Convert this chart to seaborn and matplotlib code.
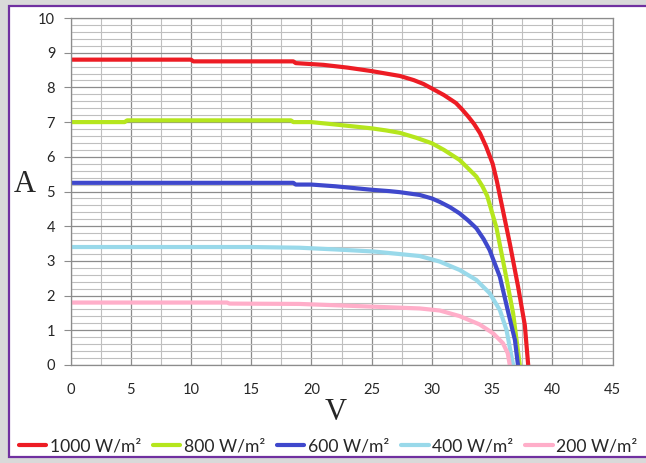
import pandas as pd
import matplotlib.pyplot as plt
import seaborn as sns
from matplotlib.patches import Rectangle
from matplotlib.ticker import MultipleLocator

# I-V curves of a PV module at five irradiance levels
series_names = ['1000 W/m²', '800 W/m²', '600 W/m²', '400 W/m²', '200 W/m²']
series_colors = ['#ed1c24', '#b5e61d', '#3f48cc', '#99d9ea', '#ffaec9']

v_1000 = [0, 10, 10.2, 18.5, 18.7, 21, 23, 25, 26, 27.35, 28.5, 29.3, 30, 31, 32, 32.5, 33, 33.5, 34,
          34.5, 35.05, 35.4, 35.78, 36.47, 37.16, 37.72, 38]
i_1000 = [8.8, 8.8, 8.75, 8.75, 8.7, 8.65, 8.57, 8.47, 8.41, 8.33, 8.21, 8.1, 7.97, 7.78, 7.55, 7.37, 7.17, 6.95, 6.68,
          6.3, 5.8, 5.3, 4.66, 3.51, 2.26, 1.15, 0]

v_800 = [0, 4.5, 4.7, 18.3, 18.5, 20, 22, 25, 26.2, 27.35, 28.7, 30, 31, 32.3, 33.15, 33.7, 34.2, 34.6,
         35.37, 36.06, 36.75, 37.3]
i_800 = [7.0, 7.0, 7.05, 7.05, 7.0, 7.0, 6.93, 6.82, 6.76, 6.69, 6.55, 6.39, 6.2, 5.91, 5.62, 5.43, 5.15, 4.87,
         3.95, 2.74, 1.49, 0]

v_600 = [0, 18.5, 18.7, 20, 22, 25, 26.5, 27.35, 29, 30, 30.66, 31.5, 32.3, 33, 33.7, 34.3, 34.8, 35.65,
         36.3, 36.9, 37.15]
i_600 = [5.25, 5.25, 5.2, 5.2, 5.15, 5.05, 5.01, 4.98, 4.9, 4.8, 4.7, 4.55, 4.37, 4.17, 3.94, 3.63, 3.31, 2.54,
         1.58, 0.72, 0]

v_400 = [0, 15, 19, 22, 25.2, 29, 30.66, 32.3, 33.7, 34.8, 35.65, 36.2, 36.75]
i_400 = [3.4, 3.4, 3.38, 3.33, 3.27, 3.14, 2.98, 2.74, 2.45, 2.07, 1.58, 1.01, 0]

v_200 = [0, 13, 13.2, 19, 25.2, 29, 30.66, 32.3, 33.96, 35.1, 35.9, 36.3, 36.47]
i_200 = [1.8, 1.8, 1.77, 1.76, 1.68, 1.63, 1.57, 1.41, 1.17, 0.91, 0.63, 0.34, 0]

x_ticks = [0, 5, 10, 15, 20, 25, 30, 35, 40, 45]
y_ticks = [0, 1, 2, 3, 4, 5, 6, 7, 8, 9, 10]

# long-form table for seaborn
frames = []
for name, v, i in zip(series_names,
                      [v_1000, v_800, v_600, v_400, v_200],
                      [i_1000, i_800, i_600, i_400, i_200]):
    frames.append(pd.DataFrame({'V': v, 'I': i, 'series': name}))
iv_df = pd.concat(frames, ignore_index=True)

sns.set_style('white')
plt.rcParams['font.family'] = ['Lato', 'DejaVu Sans']

W, H = 646, 463
fig = plt.figure(figsize=(W / 100, H / 100), dpi=100, facecolor='#d9d9d9')

# white panel with purple border (right side runs off the image)
fig.patches.append(Rectangle((9 / W, 1 - 457 / H), 1.2, (457 - 6) / H,
                             transform=fig.transFigure, facecolor='white',
                             edgecolor='#7030a0', linewidth=1.6, zorder=-5))

ax = fig.add_axes([70.5 / W, 1 - 365 / H, (612.5 - 70.5) / W, (365 - 18) / H])
ax.set_zorder(2)
sns.lineplot(data=iv_df, x='V', y='I', hue='series', palette=dict(zip(series_names, series_colors)),
             estimator=None, sort=False, linewidth=3, ax=ax, legend=True)

ax.set_xlim(0, 45)
ax.set_ylim(0, 10)
ax.set_xticks(x_ticks)
ax.set_yticks(y_ticks)
ax.xaxis.set_minor_locator(MultipleLocator(2.5))
ax.yaxis.set_minor_locator(MultipleLocator(0.2))
ax.grid(which='major', color='#8c8c8c', linewidth=0.9)
ax.grid(which='minor', color='#bfbfbf', linewidth=0.8)
ax.set_axisbelow(True)
for sp in ax.spines.values():
    sp.set_color('#8c8c8c')
    sp.set_linewidth(0.9)
ax.tick_params(axis='y', which='major', length=5, color='#8c8c8c', pad=6, labelsize=10.5, left=True)
ax.tick_params(axis='x', which='major', length=0, pad=13, labelsize=10.5)
ax.tick_params(which='minor', length=0)
ax.set_xlabel('')
ax.set_ylabel('')

fig.text(25 / W, 1 - 185 / H, 'A', family='Liberation Serif', fontsize=22, ha='center', va='center')
fig.text(336 / W, 1 - 412 / H, 'V', family='Liberation Serif', fontsize=22, ha='center', va='center')

handles, labels = ax.get_legend_handles_labels()
ax.get_legend().remove()
fig.legend(handles, labels, loc='center left', bbox_to_anchor=(19 / W, 1 - 446 / H), ncol=5,
           frameon=False, fontsize=12.6, handlelength=1.55, handletextpad=0.2, columnspacing=0.7,
           borderpad=0, borderaxespad=0)

plt.savefig('out.png', dpi=100, facecolor=fig.get_facecolor())
